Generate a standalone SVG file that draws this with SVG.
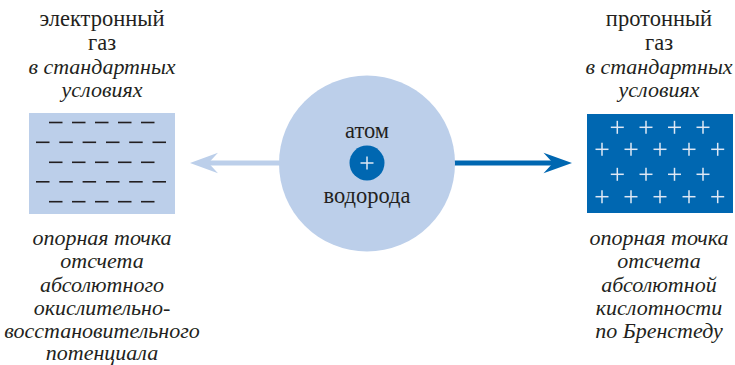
<svg xmlns="http://www.w3.org/2000/svg" width="735" height="365" viewBox="0 0 735 365">
  <defs>
    <style>
      .t { font-family: "Liberation Serif", "Times New Roman", serif; font-size: 22.5px; fill: #231f20; text-anchor: middle; }
      .i { font-style: italic; font-size: 22px; }
      .dash { stroke: #231f20; stroke-width: 1.6; }
      .plus { stroke: #dfe8f5; stroke-width: 1.5; }
    </style>
    <g id="minus"><line class="dash" x1="0" y1="0" x2="13.5" y2="0"/></g>
    <g id="plus"><line class="plus" x1="-6.5" y1="0" x2="6.5" y2="0"/><line class="plus" x1="0" y1="-6.5" x2="0" y2="6.5"/></g>
  </defs>
  <rect width="735" height="365" fill="#ffffff"/>

  <!-- electron gas -->
  <g id="electron-gas">
    <text class="t" x="102" y="26">электронный</text>
    <text class="t" x="102" y="50">газ</text>
    <text class="t i" x="102" y="74">в стандартных</text>
    <text class="t i" x="102" y="97">условиях</text>
    <rect x="29" y="113" width="146" height="101" fill="#bccfea"/>
    <g>
      <use href="#minus" x="49" y="122.5"/><use href="#minus" x="72" y="122.5"/><use href="#minus" x="95" y="122.5"/><use href="#minus" x="118" y="122.5"/><use href="#minus" x="141" y="122.5"/>
      <use href="#minus" x="36" y="142.3"/><use href="#minus" x="59.3" y="142.3"/><use href="#minus" x="82.6" y="142.3"/><use href="#minus" x="106" y="142.3"/><use href="#minus" x="129.2" y="142.3"/><use href="#minus" x="152.5" y="142.3"/>
      <use href="#minus" x="49" y="162.3"/><use href="#minus" x="72" y="162.3"/><use href="#minus" x="95" y="162.3"/><use href="#minus" x="118" y="162.3"/><use href="#minus" x="141" y="162.3"/>
      <use href="#minus" x="36" y="181.8"/><use href="#minus" x="59.3" y="181.8"/><use href="#minus" x="82.6" y="181.8"/><use href="#minus" x="106" y="181.8"/><use href="#minus" x="129.2" y="181.8"/><use href="#minus" x="152.5" y="181.8"/>
      <use href="#minus" x="49" y="201.7"/><use href="#minus" x="72" y="201.7"/><use href="#minus" x="95" y="201.7"/><use href="#minus" x="118" y="201.7"/><use href="#minus" x="141" y="201.7"/>
    </g>
    <text class="t i" x="102" y="245">опорная точка</text>
    <text class="t i" x="102" y="268.3">отсчета</text>
    <text class="t i" x="102" y="291.5">абсолютного</text>
    <text class="t i" x="102" y="314.5">окислительно-</text>
    <text class="t i" x="102" y="337.5">восстановительного</text>
    <text class="t i" x="102" y="360.3">потенциала</text>
  </g>

  <!-- proton gas -->
  <g id="proton-gas">
    <text class="t" x="659" y="26">протонный</text>
    <text class="t" x="659" y="50">газ</text>
    <text class="t i" x="659" y="74">в стандартных</text>
    <text class="t i" x="659" y="97">условиях</text>
    <rect x="587" y="114" width="146" height="99" fill="#0067b1"/>
    <g>
      <use href="#plus" x="617.3" y="127.3"/><use href="#plus" x="646" y="127.3"/><use href="#plus" x="674.5" y="127.3"/><use href="#plus" x="703" y="127.3"/>
      <use href="#plus" x="602" y="149.3"/><use href="#plus" x="631" y="149.3"/><use href="#plus" x="660" y="149.3"/><use href="#plus" x="689" y="149.3"/><use href="#plus" x="717.7" y="149.3"/>
      <use href="#plus" x="617.3" y="174.3"/><use href="#plus" x="646" y="174.3"/><use href="#plus" x="674.5" y="174.3"/><use href="#plus" x="703" y="174.3"/>
      <use href="#plus" x="602" y="196.7"/><use href="#plus" x="631" y="196.7"/><use href="#plus" x="660" y="196.7"/><use href="#plus" x="689" y="196.7"/><use href="#plus" x="717.7" y="196.7"/>
    </g>
    <text class="t i" x="659" y="245">опорная точка</text>
    <text class="t i" x="659" y="268.3">отсчета</text>
    <text class="t i" x="659" y="291.5">абсолютной</text>
    <text class="t i" x="659" y="314.5">кислотности</text>
    <text class="t i" x="659" y="337.5">по Бренстеду</text>
  </g>

  <!-- connectors -->
  <g id="connectors">
    <line x1="282" y1="163" x2="200" y2="163" stroke="#bccfea" stroke-width="5"/>
    <path d="M190 163 L218 152.7 L208.5 163 L218 173.3 Z" fill="#bccfea"/>
    <line x1="452" y1="163" x2="562" y2="163" stroke="#0067b1" stroke-width="5"/>
    <path d="M572 163 L543.5 152.7 L553 163 L543.5 173.3 Z" fill="#0067b1"/>
  </g>

  <!-- hydrogen atom -->
  <g id="hydrogen-atom">
    <circle cx="367" cy="163.5" r="88" fill="#bccfea"/>
    <circle cx="367" cy="163" r="17.5" fill="#0067b1"/>
    <use href="#plus" x="367" y="163"/>
    <text class="t" x="367" y="138">атом</text>
    <text class="t" x="367" y="203">водорода</text>
  </g>
</svg>
